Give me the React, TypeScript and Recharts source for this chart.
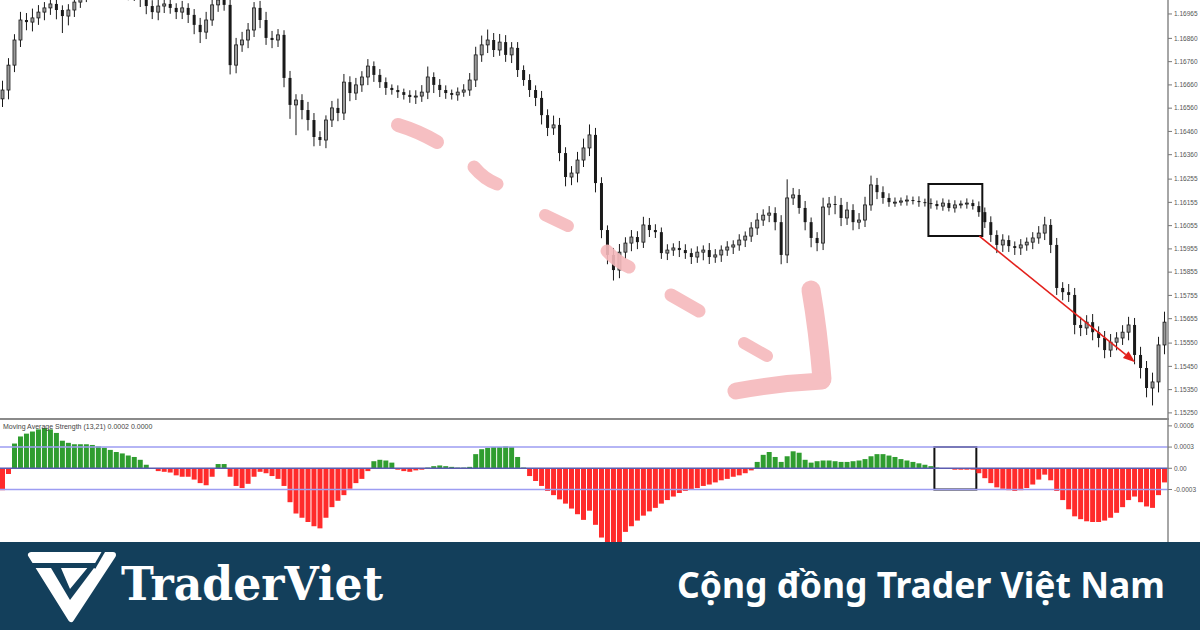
import React from 'react';
import { ComposedChart, BarChart, Bar, XAxis, YAxis, Cell, ReferenceArea, ReferenceLine } from 'recharts';

// prices are kept as points above 1.15000 (1 point = 0.00001)
const BASE = 1.15;
const firstOpen = 1600;

const closes = [
  1638, 1745, 1853, 1939, 1930, 1948, 1973, 1991, 2008, 1982,
  1956, 1982, 2016, 2046, 2068, 2090, 2077, 2102, 2085, 2068,
  2059, 2077, 2046, 2025, 1999, 1973, 1999, 2008, 1991, 1973,
  1991, 1961, 1918, 1887, 1939, 2004, 2025, 2004, 1745, 1832,
  1853, 1896, 1991, 1939, 1862, 1853, 1875, 1690, 1574, 1595,
  1552, 1509, 1436, 1423, 1509, 1561, 1539, 1672, 1625, 1660,
  1694, 1741, 1703, 1672, 1647, 1638, 1629, 1617, 1608, 1612,
  1629, 1694, 1660, 1638, 1625, 1617, 1629, 1638, 1681, 1789,
  1832, 1853, 1810, 1844, 1789, 1819, 1724, 1681, 1638, 1604,
  1530, 1475, 1488, 1367, 1264, 1281, 1337, 1389, 1445, 1238,
  1036, 929, 864, 941, 980, 1006, 984, 1058, 1036, 1027,
  937, 950, 959, 950, 937, 920, 941, 950, 920, 929,
  950, 963, 972, 993, 1010, 1045, 1079, 1100, 1109, 1070,
  929, 1174, 1187, 1131, 1070, 1002, 980, 1135, 1148, 1144,
  1088, 1122, 1070, 1079, 1144, 1230, 1199, 1174, 1156, 1156,
  1161, 1165, 1161, 1156, 1152, 1148, 1139, 1152, 1131, 1144,
  1148, 1152, 1139, 1113, 1070, 1015, 972, 993, 967, 959,
  972, 984, 1002, 1023, 1058, 972, 787, 769, 757, 628,
  615, 640, 597, 572, 520, 554, 572, 597, 628, 499,
  443, 357, 383, 542, 640,
];

const wickUp = [
  40, 30, 25, 35, 30, 40, 30, 25, 30, 35,
  20, 25, 30, 35, 25, 30, 40, 25, 30, 35,
  30, 25, 35, 30, 20, 25, 35, 30, 25, 20,
  30, 20, 25, 30, 35, 30, 25, 20, 40, 30,
  35, 30, 25, 30, 35, 30, 25, 20, 30, 25,
  25, 35, 30, 25, 20, 30, 40, 35, 25, 30,
  25, 30, 20, 25, 20, 15, 20, 15, 20, 25,
  30, 45, 20, 25, 20, 15, 20, 25, 30, 35,
  40, 45, 30, 35, 30, 25, 25, 20, 25, 20,
  30, 25, 40, 30, 25, 30, 35, 40, 45, 30,
  25, 20, 30, 35, 25, 30, 25, 35, 30, 25,
  20, 25, 20, 30, 25, 20, 25, 20, 30, 25,
  20, 25, 20, 25, 20, 25, 30, 25, 30, 25,
  30, 80, 30, 25, 30, 20, 25, 40, 30, 35,
  30, 35, 25, 30, 35, 40, 30, 25, 20, 20,
  15, 20, 15, 20, 15, 20, 15, 20, 15, 20,
  15, 20, 15, 20, 20, 25, 20, 25, 20, 20,
  25, 20, 25, 30, 35, 25, 30, 25, 35, 30,
  35, 30, 35, 25, 30, 35, 25, 30, 35, 30,
  35, 30, 40, 35, 45,
];

const wickDown = [
  35, 40, 30, 30, 35, 40, 30, 35, 30, 40,
  73, 40, 30, 25, 30, 25, 30, 35, 30, 25,
  30, 35, 25, 30, 35, 30, 35, 30, 25, 30,
  30, 35, 40, 47, 30, 25, 30, 25, 40, 35,
  30, 35, 30, 35, 30, 35, 30, 40, 60, 130,
  40, 45, 40, 25, 35, 30, 35, 30, 35, 30,
  30, 35, 30, 25, 30, 20, 25, 20, 25, 30,
  25, 30, 35, 30, 25, 20, 25, 20, 25, 30,
  30, 35, 30, 25, 30, 35, 30, 25, 30, 35,
  40, 35, 30, 35, 40, 35, 40, 30, 35, 40,
  35, 40, 45, 35, 30, 35, 30, 25, 30, 25,
  25, 30, 25, 30, 25, 30, 25, 35, 30, 25,
  30, 25, 30, 25, 30, 25, 30, 25, 30, 35,
  40, 35, 30, 25, 35, 40, 35, 30, 35, 40,
  35, 30, 35, 30, 30, 25, 30, 25, 20, 20,
  15, 20, 15, 20, 15, 20, 15, 20, 15, 20,
  15, 20, 15, 20, 25, 30, 35, 30, 25, 30,
  30, 25, 30, 25, 30, 35, 30, 35, 30, 40,
  35, 30, 35, 40, 35, 30, 35, 30, 35, 40,
  45, 40, 75, 45, 40,
];

// Moving Average Strength (13,21), in units of 0.00001
const strength = [
  -31, -8, 35, 45, 49, 52, 55, 57, 55, 50,
  39, 36, 34, 34, 34, 33, 31, 29, 26, 23,
  21, 18, 16, 12, 5, -1, -4, -5, -6, -10,
  -12, -12, -16, -21, -24, -12, 6, 6, -12, -25,
  -28, -22, -12, -5, -7, -11, -15, -25, -48, -64,
  -70, -76, -82, -85, -70, -55, -46, -38, -29, -21,
  -15, -4, 10, 12, 11, 8, -2, -4, -5, -3,
  -2, 1, 3, 4, 3, 2, 1, 1, 2, 20,
  27, 29, 30, 30, 31, 30, 16, 1, -11, -18,
  -25, -32, -38, -44, -50, -57, -65, -73, -60, -80,
  -98, -108, -110, -106, -90, -82, -74, -67, -61, -56,
  -50, -45, -40, -35, -32, -30, -28, -25, -23, -20,
  -17, -15, -12, -10, -7, -3, 9, 19, 23, 16,
  9, 17, 24, 22, 12, 8, 10, 11, 11, 10,
  9, 9, 10, 11, 13, 17, 20, 20, 18, 16,
  13, 11, 9, 7, 5, 3, 1, -1, -1, -2,
  -2, -2, -2, -7, -14, -21, -27, -29, -31, -32,
  -31, -28, -23, -16, -9, -17, -32, -45, -58, -68,
  -72, -75, -76, -76, -74, -70, -63, -55, -45, -40,
  -48, -54, -56, -38, -20,
];

const priceTicks = [1965, 1860, 1760, 1660, 1560, 1460, 1360, 1255, 1155, 1055, 955, 855, 755, 655, 550, 450, 350, 250];
const strengthTicks = [60, 30, 0, -30];

const candles = closes.map((c, i) => {
  const o = i === 0 ? firstOpen : closes[i - 1];
  const h = Math.max(o, c) + wickUp[i];
  const l = Math.min(o, c) - wickDown[i];
  return { i, o, c, h, l, range: [l, h] };
});

const histo = strength.map((v, i) => ({ i, v }));

const Candle = (props: any) => {
  const { x, y, width, height, payload } = props;
  const top = height >= 0 ? y : y + height;
  const hh = Math.abs(height);
  const { o, c, h, l } = payload;
  const k = h === l ? 0 : hh / (h - l);
  const yo = top + (h - o) * k;
  const yc = top + (h - c) * k;
  const cx = x + width / 2;
  const up = c >= o;
  return (
    <g>
      <line x1={cx} x2={cx} y1={top} y2={top + hh} stroke="#1a1a1a" strokeWidth={1} />
      <rect
        x={x}
        y={Math.min(yo, yc)}
        width={width}
        height={Math.max(1, Math.abs(yc - yo))}
        fill={up ? '#9a9a9a' : '#1a1a1a'}
        stroke="#1a1a1a"
        strokeWidth={up ? 0.8 : 0}
      />
    </g>
  );
};

const RedArrow = (p: any) => {
  const { x1, y1, x2, y2 } = p;
  const a = Math.atan2(y2 - y1, x2 - x1);
  const L = 12;
  const W = 4.5;
  const bx = x2 - L * Math.cos(a);
  const by = y2 - L * Math.sin(a);
  const pts = `${x2},${y2} ${bx - W * Math.sin(a)},${by + W * Math.cos(a)} ${bx + W * Math.sin(a)},${by - W * Math.cos(a)}`;
  return (
    <g>
      <line x1={x1} y1={y1} x2={bx} y2={by} stroke="#e3211c" strokeWidth={1.6} />
      <polygon points={pts} fill="#e3211c" />
    </g>
  );
};

const tickStyle = { fontSize: 6.5, fill: '#555', fontFamily: 'Liberation Sans, Arial, sans-serif' };
const BG = '#133f5b';
const PINK = '#f6b9bc';

export default function App() {
  return (
    <div style={{ position: 'fixed', left: 0, top: 0, width: 1200, height: 630, background: '#fff', overflow: 'hidden' }}>
      <div style={{ position: 'absolute', left: 0, top: 0 }}>
        <ComposedChart width={1200} height={418} data={candles} margin={{ top: 0, right: 0, bottom: 0, left: 0 }}>
          <XAxis dataKey="i" hide />
          <YAxis
            orientation="right"
            width={32}
            domain={[228, 2025]}
            allowDataOverflow
            ticks={priceTicks}
            interval={0}
            tickFormatter={(v: number) => (BASE + v / 100000).toFixed(5)}
            tick={tickStyle}
            tickSize={4}
            axisLine={{ stroke: '#888', strokeWidth: 1.5 }}
            tickLine={{ stroke: '#777' }}
          />
          <Bar dataKey="range" barSize={3} shape={Candle} isAnimationActive={false} />
          <ReferenceArea x1={155} x2={163} y1={1010} y2={1234} fill="none" fillOpacity={0} stroke="#111" strokeWidth={2} ifOverflow="visible" />
          <ReferenceLine segment={[{ x: 163, y: 1010 }, { x: 189, y: 468 }]} shape={RedArrow} ifOverflow="visible" />
        </ComposedChart>
      </div>

      <svg width={1200} height={420} style={{ position: 'absolute', left: 0, top: 0, pointerEvents: 'none' }}>
        <g stroke={PINK} strokeLinecap="round" fill="none" opacity={0.9}>
          <path d="M398,125 Q418,131 437,142" strokeWidth={14} />
          <path d="M474,167 Q484,179 497,184" strokeWidth={13} />
          <path d="M545,215 L568,226" strokeWidth={12} />
          <path d="M607,251 Q617,262 629,267" strokeWidth={13} />
          <path d="M671,295 L699,311" strokeWidth={13} />
          <path d="M744,343 L767,356" strokeWidth={12} />
          <path d="M811,290 Q818,330 822,379" strokeWidth={19} />
          <path d="M822,381 Q780,383 736,391" strokeWidth={17} />
        </g>
      </svg>

      <div style={{ position: 'absolute', left: 0, top: 418, width: 1169, height: 2, background: '#8a8a8a' }} />

      <div style={{ position: 'absolute', left: 0, top: 420 }}>
        <BarChart width={1200} height={122} data={histo} margin={{ top: 0, right: 0, bottom: 0, left: 0 }}>
          <XAxis dataKey="i" hide />
          <YAxis
            orientation="right"
            width={32}
            domain={[-104.3, 68.3]}
            allowDataOverflow
            ticks={strengthTicks}
            interval={0}
            tickFormatter={(v: number) => (v === 0 ? '0.00' : (v / 100000).toFixed(4))}
            tick={tickStyle}
            tickSize={4}
            axisLine={{ stroke: '#888', strokeWidth: 1.5 }}
            tickLine={{ stroke: '#777' }}
          />
          <Bar dataKey="v" barSize={5} isAnimationActive={false}>
            {histo.map((d) => (
              <Cell key={`h-${d.i}`} fill={d.v >= 0 ? '#2f9d2f' : '#ff2b2b'} />
            ))}
          </Bar>
          <ReferenceLine y={30} stroke="#9d9df2" strokeWidth={1.5} />
          <ReferenceLine y={-30} stroke="#9d9df2" strokeWidth={1.5} />
          <ReferenceLine y={0} stroke="#5b5bb0" strokeWidth={1.5} />
          <ReferenceArea x1={156} x2={162} y1={-30} y2={30} fill="none" fillOpacity={0} stroke="#111" strokeWidth={2} ifOverflow="visible" />
        </BarChart>
      </div>

      <div
        style={{
          position: 'absolute',
          left: 3,
          top: 423,
          fontSize: 7,
          color: '#444',
          fontFamily: 'Liberation Sans, Arial, sans-serif',
          whiteSpace: 'nowrap',
        }}
      >
        Moving Average Strength (13,21) 0.0002 0.0000
      </div>

      <svg width={1200} height={88} style={{ position: 'absolute', left: 0, top: 542 }}>
        <rect x={0} y={0} width={1200} height={88} fill={BG} />
        <g transform="translate(0,-542)">
          <polygon points="31,555 113,555 71,619" fill="#fff" stroke="#fff" strokeWidth={6} strokeLinejoin="round" />
          <rect x={25} y={563} width={71} height={5} fill={BG} />
          <line x1={105} y1={549} x2={94} y2={568} stroke={BG} strokeWidth={3} />
          <polygon points="51,568 61,568 70,589 89,566 94,568 70,600" fill={BG} />
          <text
            x={121}
            y={600}
            fill="#fff"
            fontFamily="DejaVu Serif, serif"
            fontWeight="bold"
            fontSize={46}
            textLength={262}
            lengthAdjust="spacingAndGlyphs"
          >
            TraderViet
          </text>
          <text
            x={677}
            y={598}
            fill="#fff"
            fontFamily="Noto Sans, DejaVu Sans, sans-serif"
            fontWeight="bold"
            fontSize={36}
            textLength={488}
            lengthAdjust="spacingAndGlyphs"
          >
            Cộng đồng Trader Việt Nam
          </text>
        </g>
      </svg>
    </div>
  );
}
